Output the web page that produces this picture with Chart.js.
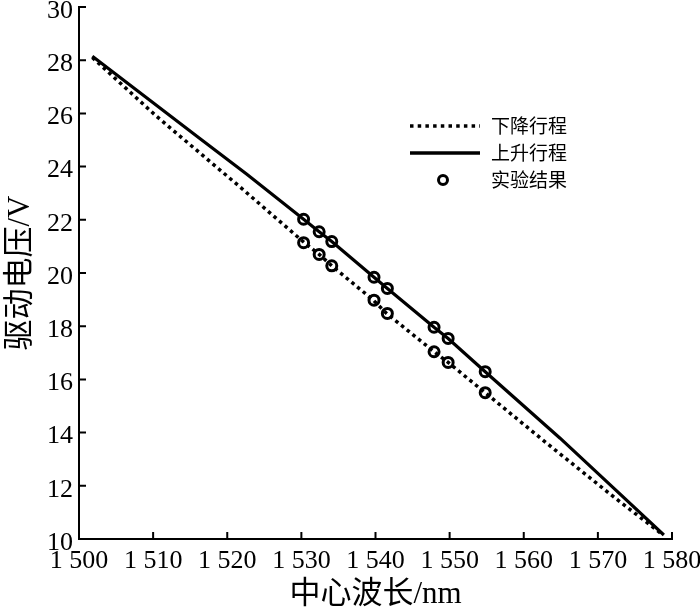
<!DOCTYPE html>
<html>
<head>
<meta charset="utf-8">
<script src="https://cdn.jsdelivr.net/npm/chart.js@4.4.1/dist/chart.umd.min.js"></script>
<style>
  html, body { margin: 0; padding: 0; background: #fff; }
  #wrap { width: 700px; height: 609px; }
</style>
</head>
<body>
<div id="wrap"><canvas id="c" width="700" height="609"></canvas></div>
<script>
// ---------- Data ----------
const xTickLabels = ['1 500','1 510','1 520','1 530','1 540','1 550','1 560','1 570','1 580'];
const yTickLabels = ['10','12','14','16','18','20','22','24','26','28','30'];

// 下降行程 (dotted)
const downX = [1501.8, 1510.5, 1521.7, 1530.4, 1532.4, 1534.1, 1539.7, 1541.5, 1547.9, 1549.8, 1554.8, 1563.1, 1572.1, 1578.8];
const downY = [28.10, 25.88, 23.24, 21.14, 20.70, 20.27, 18.98, 18.48, 17.04, 16.64, 15.50, 13.60, 11.59, 10.15];

// 上升行程 (solid)
const upX = [1501.8, 1516.3, 1522.6, 1530.3, 1532.4, 1534.1, 1539.8, 1541.6, 1547.9, 1549.8, 1554.8, 1564.9, 1572.1, 1578.9];
const upY = [28.15, 25.06, 23.72, 22.02, 21.55, 21.18, 19.84, 19.42, 17.96, 17.54, 16.29, 13.79, 11.92, 10.15];

// 实验结果 (circles), measured on both strokes
const expX    = [1530.3, 1532.4, 1534.1, 1539.8, 1541.6, 1547.9, 1549.8, 1554.8];
const expUp   = [22.02, 21.55, 21.18, 19.84, 19.42, 17.96, 17.54, 16.29];
const expDown = [21.14, 20.70, 20.27, 18.98, 18.48, 17.04, 16.64, 15.50];

const legendLabels = ['下降行程', '上升行程', '实验结果'];

// ---------- Helpers ----------
const zip = (xs, ys)=> xs.map((x, i)=> ({x, y: ys[i]}));
const expPoints = zip(expX, expUp).concat(zip(expX, expDown));

const serif = '"Liberation Serif", "Times New Roman", "Noto Sans CJK SC", serif';
const cjk = '"Noto Sans CJK SC", "Noto Sans", sans-serif';

// inward tick marks
const innerTicks = {
  id: 'innerTicks',
  afterDraw(chart){
    const {ctx, chartArea: a, scales} = chart;
    ctx.save();
    ctx.strokeStyle = '#000';
    ctx.lineWidth = 2;
    ctx.beginPath();
    scales.x.ticks.forEach((t, i)=>{
      const px = scales.x.getPixelForTick(i);
      ctx.moveTo(px, a.bottom);
      ctx.lineTo(px, a.bottom - 7);
    });
    scales.y.ticks.forEach((t, i)=>{
      const py = scales.y.getPixelForTick(i);
      ctx.moveTo(a.left, py);
      ctx.lineTo(a.left + 7, py);
    });
    ctx.stroke();
    ctx.restore();
  }
};

// legend inside the plot
const innerLegend = {
  id: 'innerLegend',
  afterDraw(chart){
    const ctx = chart.ctx;
    const x0 = 410, x1 = 480, tx = 491;
    const rows = [126, 153, 180];
    ctx.save();
    ctx.strokeStyle = '#000';
    ctx.lineCap = 'butt';
    // dotted
    ctx.lineWidth = 3.5;
    ctx.setLineDash([3.5, 4.2]);
    ctx.beginPath(); ctx.moveTo(x0, rows[0]); ctx.lineTo(x1, rows[0]); ctx.stroke();
    // solid
    ctx.setLineDash([]);
    ctx.lineWidth = 3.5;
    ctx.beginPath(); ctx.moveTo(x0, rows[1]); ctx.lineTo(x1, rows[1]); ctx.stroke();
    // circle
    ctx.lineWidth = 3;
    ctx.beginPath(); ctx.arc(443, rows[2], 4.5, 0, Math.PI*2); ctx.stroke();
    // text
    ctx.fillStyle = '#000';
    ctx.font = '19px ' + cjk;
    ctx.textBaseline = 'middle';
    ctx.textAlign = 'left';
    legendLabels.forEach((s, i)=> ctx.fillText(s, tx, rows[i]));
    ctx.restore();
  }
};

Chart.defaults.font.family = serif;
Chart.defaults.color = '#000';

new Chart(document.getElementById('c').getContext('2d'), {
  type: 'line',
  data: {
    datasets: [
      {
        label: legendLabels[0],
        data: zip(downX, downY),
        borderColor: '#000',
        borderWidth: 3.5,
        borderDash: [3.5, 3.8],
        borderCapStyle: 'butt',
        pointRadius: 0,
        tension: 0,
        fill: false
      },
      {
        label: legendLabels[1],
        data: zip(upX, upY),
        borderColor: '#000',
        borderWidth: 3.2,
        pointRadius: 0,
        tension: 0,
        fill: false
      },
      {
        label: legendLabels[2],
        data: expPoints,
        showLine: false,
        pointStyle: 'circle',
        pointRadius: 5,
        pointBorderWidth: 3,
        pointBorderColor: '#000',
        pointBackgroundColor: 'rgba(0,0,0,0)'
      }
    ]
  },
  options: {
    responsive: false,
    animation: false,
    events: [],
    layout: {autoPadding: false, padding: {top: 7, right: 28, left: 0, bottom: 0}},
    plugins: {legend: {display: false}, tooltip: {enabled: false}},
    scales: {
      x: {
        type: 'linear',
        min: 1500, max: 1580,
        afterBuildTicks: (s)=> { s.ticks = xTickLabels.map((_, i)=> ({value: 1500 + i*10})); },
        afterFit: (s)=> { s.height = 70; s.paddingLeft = 0; s.paddingRight = 0; },
        ticks: {
          autoSkip: false, maxRotation: 0, padding: 7,
          font: {size: 26, family: serif},
          callback: (v, i)=> xTickLabels[i]
        },
        grid: {display: false, drawTicks: false},
        border: {display: true, color: '#000', width: 2},
        title: {display: true, text: '中心波长/nm', font: {size: 31, family: serif}, padding: {top: 0, bottom: -4}}
      },
      y: {
        type: 'linear',
        min: 10, max: 30,
        afterBuildTicks: (s)=> { s.ticks = yTickLabels.map((t)=> ({value: Number(t)})); },
        afterFit: (s)=> { s.width = 79; s.paddingTop = 0; s.paddingBottom = 0; },
        ticks: {
          autoSkip: false, padding: 6, labelOffset: 4,
          font: {size: 26, family: serif},
          callback: (v, i)=> yTickLabels[i]
        },
        grid: {display: false, drawTicks: false},
        border: {display: true, color: '#000', width: 2},
        title: {display: true, text: '驱动电压/V', font: {size: 31, family: serif}, padding: {top: 2, bottom: 0}}
      }
    }
  },
  plugins: [innerTicks, innerLegend]
});
</script>
</body>
</html>
